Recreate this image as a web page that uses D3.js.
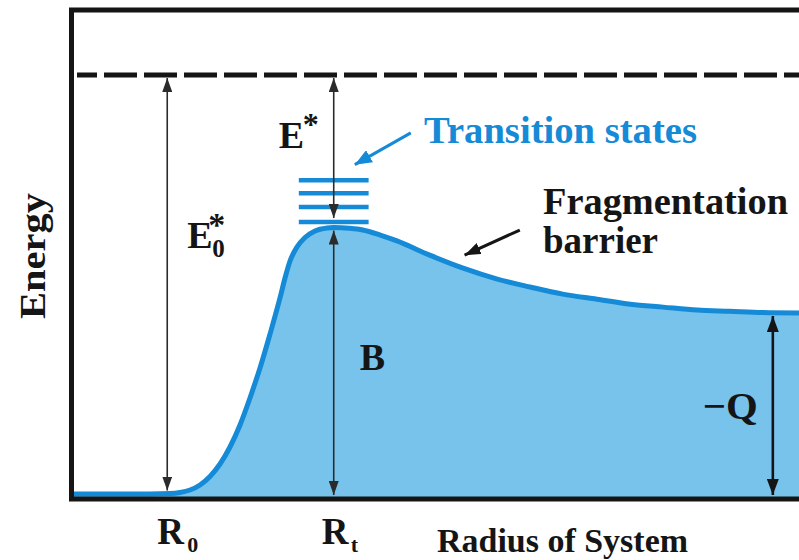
<!DOCTYPE html>
<html>
<head>
<meta charset="utf-8">
<script src="https://cdn.jsdelivr.net/npm/d3@7"></script>
<style>
  html, body { margin: 0; padding: 0; background: #ffffff; }
  svg { display: block; }
  text { font-family: "Liberation Serif", "Times New Roman", Times, serif; font-weight: bold; }
</style>
</head>
<body>
<svg id="chart" width="799" height="560"></svg>
<script>
// Potential energy along the separation coordinate (arbitrary units: radius 0–100, energy 0–100)
const radius = [0, 10.7, 13.48, 14.86, 16.23, 17.61, 18.98, 20.36, 21.73, 23.11, 24.48, 25.86, 27.24, 28.61, 29.30,
                29.99, 30.95, 32.05, 33.43, 35.08, 36.0, 38.2, 40.0, 42.4, 44.7, 49.2, 53.8, 58.5, 63.0, 67.5, 72.2,
                76.8, 81.3, 86.0, 90.5, 95.0, 100];
const energy = [0, 0, 0.1, 0.36, 0.95, 2.15, 4.18, 7.16, 11.22, 16.47, 22.91, 30.07, 38.19, 46.78, 51.55,
                55.61, 58.95, 61.22, 62.77, 63.48, 63.6, 63.4, 63.0, 61.8, 60.4, 57.0, 53.9, 51.3, 49.4, 47.7, 46.5,
                45.3, 44.6, 43.9, 43.6, 43.3, 43.2];

// Characteristic radii and energies
const R0 = 13.1;          // initial radius
const Rt = 36.0;          // transition-state radius
const Rq = 96.4;          // radius where the exit channel is measured
const totalEnergy = 100;  // E0* (dashed line)
const barrier = 63.6;     // B
const exitLevel = 43.2;   // -Q

// Transition-state levels stacked above the barrier top
const transitionLevels = [74.9, 71.8, 68.5, 64.9];
const levelSpan = [31.2, 40.8];

// Axis labels
const yAxisLabel = "Energy";
const xAxisLabel = "Radius of System";

const svg = d3.select("#chart");
const x = d3.scaleLinear().domain([0, 100]).range([72, 799]);
const y = d3.scaleLinear().domain([0, 100]).range([494, 75]);

const frame = { left: 71.5, top: 10, right: 812, bottom: 499 };
const dark = "#151515";
const arrowInk = "#2b2b2b";
const lineBlue = "#158ad6";
const fillBlue = "#78c3ec";

// Arrowhead markers
const defs = svg.append("defs");
function marker(id, color, len, wid) {
  defs.append("marker")
    .attr("id", id)
    .attr("viewBox", `0 0 ${len} ${wid}`)
    .attr("refX", len).attr("refY", wid / 2)
    .attr("markerWidth", len).attr("markerHeight", wid)
    .attr("markerUnits", "userSpaceOnUse")
    .attr("orient", "auto-start-reverse")
    .append("path")
    .attr("d", `M0,0 L${len},${wid / 2} L0,${wid} Z`)
    .attr("fill", color);
}
marker("headDark", arrowInk, 14, 10);
marker("headBold", dark, 16, 12);
marker("headBlue", lineBlue, 17, 14);

const pts = radius.map((r, i) => [r, energy[i]]);

// Filled region beneath the potential curve
svg.append("path")
  .datum(pts)
  .attr("d", d3.area().x(d => x(d[0])).y0(frame.bottom).y1(d => y(d[1])).curve(d3.curveMonotoneX))
  .attr("fill", fillBlue);

// Potential curve
svg.append("path")
  .datum(pts)
  .attr("d", d3.line().x(d => x(d[0])).y(d => y(d[1])).curve(d3.curveMonotoneX))
  .attr("fill", "none")
  .attr("stroke", lineBlue)
  .attr("stroke-width", 5)
  .attr("stroke-linejoin", "round");

// Transition-state levels
svg.append("g").selectAll("line")
  .data(transitionLevels)
  .join("line")
  .attr("x1", x(levelSpan[0])).attr("x2", x(levelSpan[1]))
  .attr("y1", d => y(d)).attr("y2", d => y(d))
  .attr("stroke", lineBlue)
  .attr("stroke-width", 4.5);

// Total-energy dashed line
svg.append("line")
  .attr("x1", 77).attr("x2", frame.right)
  .attr("y1", y(totalEnergy)).attr("y2", y(totalEnergy))
  .attr("stroke", dark)
  .attr("stroke-width", 5)
  .attr("stroke-dasharray", "33 7")
  .attr("stroke-dashoffset", 13);

// Frame
svg.append("rect")
  .attr("x", frame.left).attr("y", frame.top)
  .attr("width", frame.right - frame.left).attr("height", frame.bottom - frame.top)
  .attr("fill", "none")
  .attr("stroke", dark)
  .attr("stroke-width", 5);

// Double-headed energy arrows: [radius, low energy, high energy, gap at low end, gap at high end, width]
const arrows = [
  [R0, 0, totalEnergy, 3.5, 3, 1.6],
  [Rt, transitionLevels[3], totalEnergy, 4, 3, 1.6],
  [Rt, 0, barrier, -1, 3, 1.6],
  [Rq, 0, exitLevel, -1, 3, 2.6]
];
svg.append("g").selectAll("line")
  .data(arrows)
  .join("line")
  .attr("x1", d => x(d[0])).attr("x2", d => x(d[0]))
  .attr("y1", d => y(d[1]) - d[3])
  .attr("y2", d => y(d[2]) + d[4])
  .attr("stroke", d => d[5] > 2 ? dark : arrowInk)
  .attr("stroke-width", d => d[5])
  .attr("marker-start", d => d[5] > 2 ? "url(#headBold)" : "url(#headDark)")
  .attr("marker-end", d => d[5] > 2 ? "url(#headBold)" : "url(#headDark)");

// Pointer arrows for the annotations
const pointers = [
  { from: [46.6, 86.2], to: [38.9, 78.6], color: lineBlue, head: "headBlue" },
  { from: [61.6, 63.0], to: [54.0, 57.0], color: dark, head: "headBold" }
];
svg.append("g").selectAll("line")
  .data(pointers)
  .join("line")
  .attr("x1", d => x(d.from[0])).attr("y1", d => y(d.from[1]))
  .attr("x2", d => x(d.to[0])).attr("y2", d => y(d.to[1]))
  .attr("stroke", d => d.color)
  .attr("stroke-width", 3)
  .attr("marker-end", d => `url(#${d.head})`);

// Text labels
function label(txt, px, py, size, opts = {}) {
  const t = svg.append("text")
    .attr("x", px).attr("y", py)
    .attr("font-size", size)
    .attr("fill", opts.fill || dark)
    .text(txt);
  if (opts.len) t.attr("textLength", opts.len).attr("lengthAdjust", "spacingAndGlyphs");
  if (opts.anchor) t.attr("text-anchor", opts.anchor);
  return t;
}

// Symbol with superscript / subscript parts, kept in one text element
function symbol(parts) {
  const t = svg.append("text").attr("fill", dark);
  parts.forEach(p => {
    t.append("tspan")
      .attr("x", p.x).attr("y", p.y)
      .attr("font-size", p.size)
      .text(p.t);
  });
  return t;
}

// E* (between total energy and the barrier top)
symbol([
  { t: "E", x: x(Rt) - 55, y: 148, size: 38 },
  { t: "*", x: x(Rt) - 31, y: 135, size: 32 }
]);
// E0*
symbol([
  { t: "E", x: x(R0) + 20, y: 248, size: 38 },
  { t: "*", x: x(R0) + 41, y: 236, size: 34 },
  { t: "0", x: x(R0) + 45, y: 257, size: 25 }
]);
// B and -Q
label("B", x(Rt) + 26, 370, 38);
label("\u2212Q", x(Rq) - 70, 419, 38, { len: 55 });
// Radii
symbol([
  { t: "R", x: x(R0) - 10, y: 544, size: 37 },
  { t: "0", x: x(R0) + 20, y: 552, size: 22 }
]);
symbol([
  { t: "R", x: x(Rt) - 12, y: 544, size: 37 },
  { t: "t", x: x(Rt) + 17, y: 552, size: 22 }
]);
// Axis titles
label(xAxisLabel, 437, 552, 34, { len: 251 });
svg.append("text")
  .attr("transform", "translate(45,256) rotate(-90)")
  .attr("text-anchor", "middle")
  .attr("font-size", 36)
  .attr("fill", dark)
  .attr("textLength", 126).attr("lengthAdjust", "spacingAndGlyphs")
  .text(yAxisLabel);
// Annotations
label("Transition states", 424, 143, 38, { fill: lineBlue, len: 273 });
label("Fragmentation", 543, 214, 38, { len: 245 });
label("barrier", 543, 253, 38, { len: 115 });
</script>
</body>
</html>
